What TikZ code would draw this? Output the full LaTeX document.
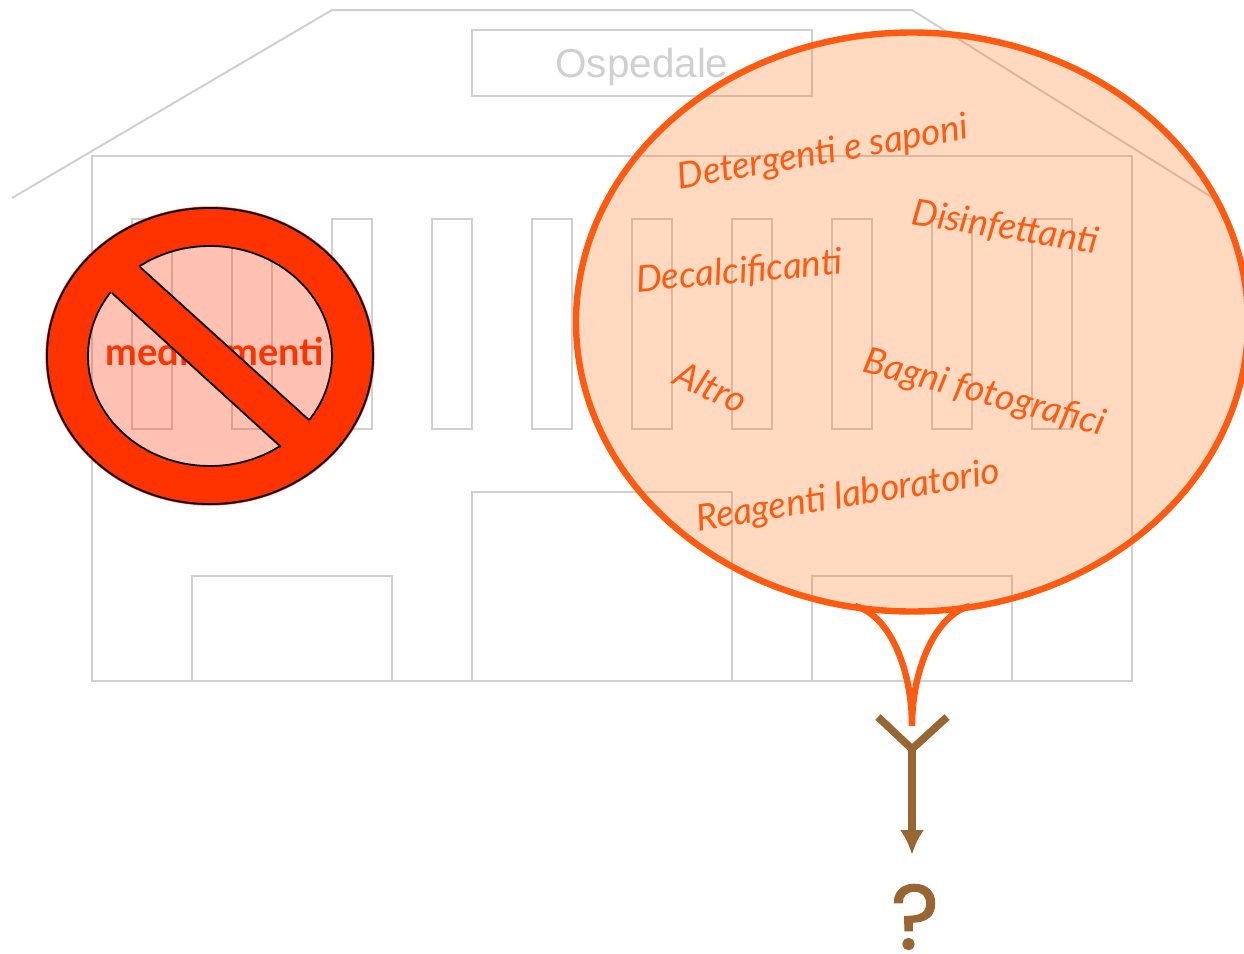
\documentclass[tikz,border=0pt]{standalone}
\usepackage{fontspec}
\setmainfont{Lato}
\setsansfont{Liberation Sans}
\newfontfamily\roundfont[FakeBold=1.2]{Poppins}
\usetikzlibrary{shapes.geometric,arrows.meta}
\definecolor{wall}{HTML}{D0D0D0}
\definecolor{bubbleorange}{HTML}{FF5A0F}
\definecolor{signred}{HTML}{FF3300}
\definecolor{arrowbrown}{HTML}{996633}
\tikzset{
  building/.style = {draw=wall, line width=1pt, inner sep=0pt, outer sep=0pt},
  window/.style = {building, minimum width=20pt, minimum height=105pt},
  word/.style = {text=bubbleorange, font=\itshape\fontsize{18.3}{18}\selectfont, inner sep=0pt},
  fork/.style = {draw=arrowbrown, line width=3.8pt}
}
\begin{document}
\begin{tikzpicture}[x=0.5pt, y=-0.5pt]
    \useasboundingbox (0,0) rectangle (1244,954);
    % hospital
    \node[building, minimum width=520pt, minimum height=262.5pt] (body) at (612,418.5) {};
    \node[building, minimum width=170pt, minimum height=33pt] (plate) at (642,63) {};
    \node[text=wall, font=\sffamily\fontsize{20.2}{20}\selectfont, inner sep=0pt] (platetext) at (642,67) {Ospedale};
    \node[window] (win1) at (152,324) {};
    \node[window] (win2) at (252,324) {};
    \node[window] (win3) at (352,324) {};
    \node[window] (win4) at (452,324) {};
    \node[window] (win5) at (552,324) {};
    \node[window] (win6) at (652,324) {};
    \node[window] (win7) at (752,324) {};
    \node[window] (win8) at (852,324) {};
    \node[window] (win9) at (952,324) {};
    \node[window] (win10) at (1052,324) {};
    \node[building, minimum width=130pt, minimum height=94.5pt] (door) at (602,586.5) {};
    \node[building, minimum width=100pt, minimum height=52.5pt] (leftdoor) at (292,628.5) {};
    \node[building, minimum width=100pt, minimum height=52.5pt] (rightdoor) at (912,628.5) {};
    \draw[building] (12,198) -- (332,10) -- (912,10) -- (1213,198);
    % forbidden sign
    \node[ellipse, draw=none, fill=signred, fill opacity=0.3, minimum width=122pt, minimum height=110pt, inner sep=0pt] (inner) at (210,356) {};
    \node[text=signred, font=\bfseries\fontsize{19}{19}\selectfont, inner sep=0pt] (drug) at (215,352) {medicamenti};
    \fill[signred, even odd rule] (210,356) ellipse [x radius=164.5, y radius=149.5] (210,356) ellipse [x radius=122, y radius=110];
    \coordinate (bar1) at (140,267);
    \coordinate (bar2) at (309,420);
    \coordinate (bar3) at (112,293);
    \coordinate (bar4) at (281,447);
    \draw[black, line width=0.9pt] (210,356) ellipse [x radius=122, y radius=110];
    \fill[signred] (bar1) -- (bar2) -- (325,435) -- (296,461) -- (bar4) -- (bar3) -- (92,275) -- (120,249) -- cycle;
    \draw[black, line width=0.9pt] (bar1) -- (bar2);
    \draw[black, line width=0.9pt] (bar3) -- (bar4);
    \node[ellipse, draw=black, line width=0.9pt, minimum width=163pt, minimum height=148pt, inner sep=0pt] (sign) at (210,356) {};
    % bubble
    \node[ellipse, draw=bubbleorange, line width=3.2pt, fill=orange!50!bubbleorange, fill opacity=0.25, draw opacity=1, minimum width=336pt, minimum height=289.5pt, inner sep=0pt] (bubble) at (912,322) {};
    \node[word, rotate=10] (w1) at (823,154) {Detergenti e saponi};
    \node[word, rotate=-9] (w2) at (1005,228) {Disinfettanti};
    \node[word, rotate=5] (w3) at (739,272) {Decalcificanti};
    \node[word, rotate=-25] (w4) at (711,387) {Altro};
    \node[word, rotate=-15] (w5) at (984,394) {Bagni fotografici};
    \node[word, rotate=9] (w6) at (848,497) {Reagenti laboratorio};
    % tail
    \coordinate (tailL) at (855,606);
    \coordinate (tailR) at (970,606);
    \coordinate (tailend) at (912,726);
    \draw[bubbleorange, line width=3.2pt] (tailL) .. controls (890,615) and (912,670) .. (tailend);
    \draw[bubbleorange, line width=3.2pt] (tailR) .. controls (935,615) and (912,670) .. (tailend);
    % fork and arrow
    \coordinate (forkL) at (878,717);
    \coordinate (forkR) at (947,717);
    \coordinate (forkM) at (912,749);
    \coordinate (tip) at (912,855);
    \node[text=arrowbrown, font=\roundfont\fontsize{46}{46}\selectfont, inner sep=0pt] (what) at (915,917) {?};
    \draw[fork] (forkL) -- (forkM) -- (forkR);
    \draw[fork, -{Latex[length=12.5pt, width=12pt]}] (forkM) -- (tip);
\end{tikzpicture}
\end{document}
